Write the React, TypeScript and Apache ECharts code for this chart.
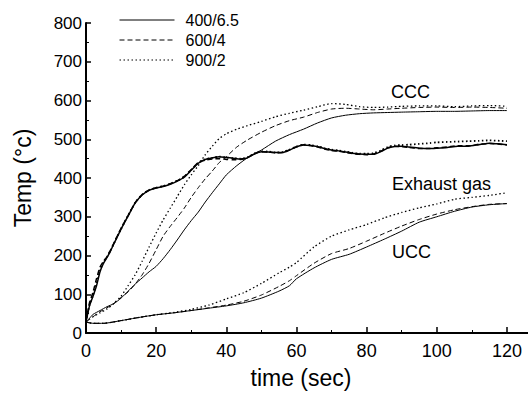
import React, { useEffect, useRef } from "react";
import * as echarts from "echarts";

// ---- data ----
const legendNames = ["400/6.5", "600/4", "900/2"];

const cccTime = [0, 1, 2, 4, 6, 8, 10, 12, 14, 16, 18, 20, 22, 24, 26, 28, 30, 32, 34, 36, 38, 40, 43, 46, 50, 54, 58, 62, 66, 70, 74, 78, 82, 86, 90, 95, 100, 105, 110, 115, 120];
const cccSolid = [28, 38, 48, 58, 68, 76, 90, 108, 126, 142, 158, 172, 192, 215, 240, 266, 290, 312, 338, 362, 385, 408, 432, 452, 472, 495, 512, 526, 542, 555, 562, 566, 568, 569, 570, 571, 572, 572, 573, 574, 574];
const cccDashed = [28, 35, 42, 55, 65, 77, 92, 106, 126, 150, 180, 215, 250, 275, 298, 322, 350, 375, 398, 418, 440, 455, 480, 498, 518, 535, 548, 557, 569, 578, 580, 578, 576, 578, 580, 582, 583, 582, 583, 582, 580];
const cccDotted = [28, 36, 42, 52, 62, 77, 95, 122, 150, 185, 222, 258, 292, 322, 352, 382, 408, 432, 460, 482, 502, 514, 526, 535, 546, 558, 567, 575, 584, 592, 590, 584, 582, 583, 585, 586, 586, 584, 586, 587, 585];

const exhTime = [0, 0.5, 1, 2, 3, 4, 5, 6, 7, 8, 10, 12, 14, 16, 18, 20, 22, 24, 26, 28, 30, 32, 34, 36, 38, 40, 42, 44, 46, 48, 50, 52, 54, 56, 58, 60, 62, 64, 66, 68, 70, 72, 74, 76, 78, 80, 82, 84, 86, 88, 90, 92, 95, 98, 100, 103, 106, 109, 112, 115, 118, 120];
const exhSolid = [30, 50, 70, 95, 122, 158, 180, 195, 212, 231, 268, 302, 335, 356, 368, 374, 378, 384, 392, 402, 420, 438, 448, 452, 455, 453, 451, 449, 452, 462, 468, 467, 466, 466, 472, 480, 485, 484, 481, 476, 472, 470, 467, 464, 462, 461, 461, 468, 477, 481, 482, 480, 477, 476, 477, 479, 482, 482, 486, 490, 488, 486];
const exhDashed = [30, 55, 78, 105, 140, 170, 185, 197, 214, 233, 270, 303, 336, 357, 369, 375, 379, 385, 393, 404, 422, 440, 446, 449, 450, 448, 447, 448, 453, 463, 468, 467, 465, 466, 473, 481, 486, 484, 480, 475, 471, 469, 466, 463, 461, 460, 462, 469, 478, 482, 481, 479, 476, 476, 478, 480, 483, 483, 487, 489, 487, 485];
const exhDotted = [30, 52, 72, 98, 128, 162, 182, 196, 213, 232, 269, 303, 336, 357, 369, 375, 379, 385, 393, 403, 421, 439, 448, 452, 455, 453, 451, 450, 453, 463, 469, 468, 466, 467, 473, 481, 486, 485, 482, 477, 473, 471, 468, 465, 463, 463, 464, 471, 480, 484, 485, 486, 488, 490, 492, 493, 494, 495, 496, 497, 496, 495];

const uccTime = [0, 2, 5, 10, 15, 20, 25, 30, 35, 40, 45, 50, 55, 58, 60, 65, 70, 75, 80, 85, 90, 95, 100, 105, 110, 115, 120];
const uccSolid = [28, 25, 25, 32, 40, 47, 52, 58, 64, 70, 78, 90, 108, 122, 140, 168, 190, 203, 222, 242, 263, 286, 300, 314, 325, 331, 334];
const uccDashed = [28, 25, 25, 32, 40, 47, 52, 58, 65, 72, 82, 98, 120, 135, 148, 180, 205, 218, 237, 257, 276, 293, 307, 318, 326, 332, 334];
const uccDotted = [28, 25, 25, 32, 40, 47, 53, 61, 72, 88, 104, 128, 155, 170, 182, 222, 250, 266, 280, 297, 311, 323, 333, 345, 350, 355, 362];

const xTicks = [0, 20, 40, 60, 80, 100, 120];

const groupLabels = [
  { text: "CCC", x: 391, y: 92 },
  { text: "Exhaust gas", x: 392, y: 184 },
  { text: "UCC", x: 392, y: 252 },
];

const FONT = "Liberation Sans, Arial, Helvetica, sans-serif";

const styles: any[] = [
  { type: "solid", width: 1 },
  { type: [5, 3], width: 1 },
  { type: [1.5, 2.5], width: 1.3 },
];

function pairs(t: number[], v: number[]) {
  return t.map((x, i) => [x, v[i]]);
}

export default function App() {
  const ref = useRef<HTMLDivElement>(null);
  useEffect(() => {
    if (!ref.current) return;
    const chart = echarts.init(ref.current, undefined, { renderer: "svg" });
    const groups = [
      { t: cccTime, vals: [cccSolid, cccDashed, cccDotted], w: 0 },
      { t: exhTime, vals: [exhSolid, exhDashed, exhDotted], w: 0.5 },
      { t: uccTime, vals: [uccSolid, uccDashed, uccDotted], w: 0 },
    ];
    const series: any[] = [];
    groups.forEach((g) => {
      g.vals.forEach((v, i) => {
        series.push({
          type: "line",
          name: legendNames[i],
          data: pairs(g.t, v),
          symbol: "none",
          smooth: 0.2,
          lineStyle: { color: "#000", type: styles[i].type, width: styles[i].width + g.w },
          itemStyle: { color: "#000" },
        });
      });
    });
    chart.setOption({
      animation: false,
      backgroundColor: "#fff",
      grid: { left: 86, right: 0, top: 23, bottom: 61 },
      legend: {
        data: legendNames,
        orient: "vertical",
        left: 119,
        top: 12,
        itemWidth: 55,
        itemHeight: 14,
        itemGap: 4,
        padding: 0,
        itemStyle: { opacity: 0 },
        lineStyle: { width: 1 },
        textStyle: { fontFamily: FONT, fontSize: 16, color: "#000", padding: [0, 0, 0, 6] },
      },
      xAxis: {
        type: "value",
        min: 0,
        max: 126,
        interval: 20,
        name: "time (sec)",
        nameLocation: "middle",
        nameGap: 33,
        nameTextStyle: { fontFamily: FONT, fontSize: 23, color: "#000", padding: [0, 12, 0, 0] },
        axisLine: { show: true, onZero: false, lineStyle: { color: "#000", width: 2 } },
        axisTick: { show: true, inside: true, length: 6, customValues: xTicks, lineStyle: { color: "#000", width: 1.5 } },
        minorTick: { show: true, splitNumber: 2, length: 3, lineStyle: { color: "#000", width: 1 } },
        axisLabel: { customValues: xTicks, margin: 9, fontFamily: FONT, fontSize: 18, color: "#000" },
        splitLine: { show: false },
      },
      yAxis: {
        type: "value",
        min: 0,
        max: 800,
        interval: 100,
        name: "Temp (°c)",
        nameLocation: "middle",
        nameGap: 52,
        nameTextStyle: { fontFamily: FONT, fontSize: 23, color: "#000" },
        axisLine: { show: true, lineStyle: { color: "#000", width: 2 } },
        axisTick: { show: true, inside: true, length: 5, lineStyle: { color: "#000", width: 1.5 } },
        minorTick: { show: true, splitNumber: 2, length: 3, lineStyle: { color: "#000", width: 1 } },
        axisLabel: { margin: 4, fontFamily: FONT, fontSize: 17, color: "#000" },
        splitLine: { show: false },
      },
      graphic: groupLabels.map((g) => ({
        type: "text",
        x: g.x,
        y: g.y,
        style: { text: g.text, fontFamily: FONT, fontSize: 18, fill: "#000", verticalAlign: "middle", align: "left" },
      })),
      series,
    });
    return () => chart.dispose();
  }, []);
  return <div ref={ref} style={{ position: "fixed", left: 0, top: 0, width: 528, height: 394, background: "#fff" }} />;
}
